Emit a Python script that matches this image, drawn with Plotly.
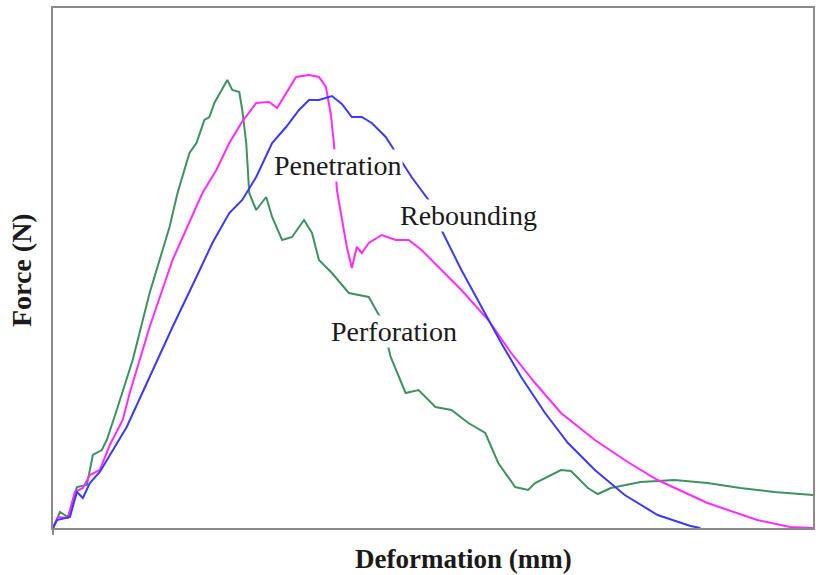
import plotly.graph_objects as go

# Deformation (mm) and force (N) for the three impact responses
perforation_x = [0, 0.35, 0.75, 1.2, 1.7, 2.0, 2.45, 2.7, 3.2, 4.0, 4.85, 5.85, 6.25, 6.85, 7.2, 7.6,
                 7.85, 8.1, 8.75, 9.0, 9.35, 9.5, 9.7, 9.85, 10.2, 10.7, 11.0, 11.5, 12.0, 12.6, 13.0,
                 13.35, 14.0, 14.85, 15.85, 16.5, 16.95, 17.7, 18.35, 19.2, 20.0, 20.85, 21.7, 22.35,
                 23.2, 23.85, 24.2, 25.5, 26.0, 26.85, 27.35, 28.0, 29.5, 31.2, 32.85, 34.5, 36.2, 38.15]
perforation_f = [0, 320, 220, 820, 860, 1460, 1560, 1760, 2360, 3360, 4700, 6020, 6700, 7500, 7700, 8160,
                 8220, 8500, 8960, 8760, 8720, 8360, 7700, 6700, 6360, 6620, 6220, 5760, 5820, 6160, 5900,
                 5360, 5100, 4700, 4620, 4160, 3420, 2700, 2760, 2420, 2360, 2100, 1900, 1300,
                 820, 760, 900, 1160, 1140, 800, 680, 800, 920, 960, 900, 800, 720, 660]

penetration_x = [0, 0.25, 0.75, 1.1, 1.5, 1.85, 2.35, 2.85, 3.5, 3.85, 4.85, 6.0, 7.5, 8.2, 8.85, 9.45,
                 10.2, 10.85, 11.25, 11.7, 12.2, 12.85, 13.35, 13.7, 13.95, 14.1, 14.25, 14.45, 14.75,
                 15.0, 15.25, 15.5, 15.85, 16.5, 17.2, 17.85, 18.5, 19.35, 20.5, 21.85, 23.0, 24.2,
                 25.5, 27.2, 28.85, 30.35, 32.85, 35.35, 37.0, 38.15]
penetration_f = [0, 220, 200, 720, 800, 1060, 1160, 1660, 2160, 2700, 4020, 5360, 6700, 7160, 7700, 8100,
                 8500, 8520, 8400, 8700, 9020, 9060, 9020, 8820, 8260, 7700, 6760, 6300, 5620,
                 5200, 5620, 5500, 5700, 5860, 5760, 5760, 5560, 5220, 4760, 4160, 3500, 2900,
                 2300, 1760, 1320, 960, 500, 160, 20, 0]

rebounding_x = [0, 0.2, 0.85, 1.2, 1.5, 1.85, 2.35, 2.7, 3.0, 3.7, 4.85, 6.0, 7.2, 8.0, 8.85, 9.5,
                10.2, 11.0, 11.7, 12.35, 12.85, 13.35, 14.0, 14.5, 15.0, 15.5, 16.0, 16.7, 17.35,
                18.0, 18.85, 19.5, 20.5, 21.5, 22.5, 23.5, 24.7, 25.85, 27.2, 28.7, 30.35, 32.0, 32.5]
rebounding_f = [0, 160, 220, 720, 600, 900, 1120, 1360, 1560, 2020, 3020, 4020, 5020, 5700, 6300, 6560,
                7020, 7700, 8020, 8360, 8560, 8560, 8640, 8480, 8220, 8220, 8100, 7820, 7420,
                7020, 6560, 5960, 5160, 4420, 3700, 3020, 2300, 1700, 1160, 660, 260, 40, 0]

# Curve labels: text and (deformation, force) position
label_text = ["Penetration", "Rebounding", "Perforation"]
label_x = [14.3, 20.85, 17.1]
label_f = [7260, 6260, 3940]

x_range = [0, 38.15]
f_range = [0, 10400]

FONT = "Liberation Serif, Times New Roman, serif"
AXIS_GREY = "#8a8a8a"

fig = go.Figure()
fig.add_trace(go.Scatter(x=perforation_x, y=perforation_f, mode="lines",
                         line=dict(color="#3f9160", width=2), name="Perforation"))
fig.add_trace(go.Scatter(x=penetration_x, y=penetration_f, mode="lines",
                         line=dict(color="#ff2bff", width=2), name="Penetration"))
fig.add_trace(go.Scatter(x=rebounding_x, y=rebounding_f, mode="lines",
                         line=dict(color="#3a3aff", width=2), name="Rebounding"))

for t, lx, lf in zip(label_text, label_x, label_f):
    fig.add_annotation(x=lx, y=lf, xref="x", yref="y", text=t, showarrow=False,
                       font=dict(family=FONT, size=28, color="#1a1a1a"),
                       bgcolor="white", borderpad=0)

# Axis titles
fig.add_annotation(x=0.54, y=0, xref="paper", yref="paper", yanchor="middle", yshift=-31,
                   text="<b>Deformation (mm)</b>", showarrow=False, borderpad=0,
                   font=dict(family=FONT, size=27, color="#1a1a1a"))
fig.add_annotation(x=0, y=0.496, xref="paper", yref="paper", xanchor="center", xshift=-32,
                   text="<b>Force (N)</b>", textangle=-90, showarrow=False,
                   font=dict(family=FONT, size=28, color="#1a1a1a"))

fig.update_layout(
    width=816, height=575,
    margin=dict(l=53, r=1, t=8, b=47),
    paper_bgcolor="white", plot_bgcolor="white",
    showlegend=False,
    xaxis=dict(range=x_range, showgrid=False, zeroline=False, showline=True,
               linecolor=AXIS_GREY, linewidth=2, mirror=True,
               ticks="outside", tickvals=[0], ticklen=5, tickcolor=AXIS_GREY, tickwidth=2,
               showticklabels=False),
    yaxis=dict(range=f_range, showgrid=False, zeroline=False, showline=True,
               linecolor=AXIS_GREY, linewidth=2, mirror=True,
               showticklabels=False, ticks=""),
)

fig.write_html("out.html")
